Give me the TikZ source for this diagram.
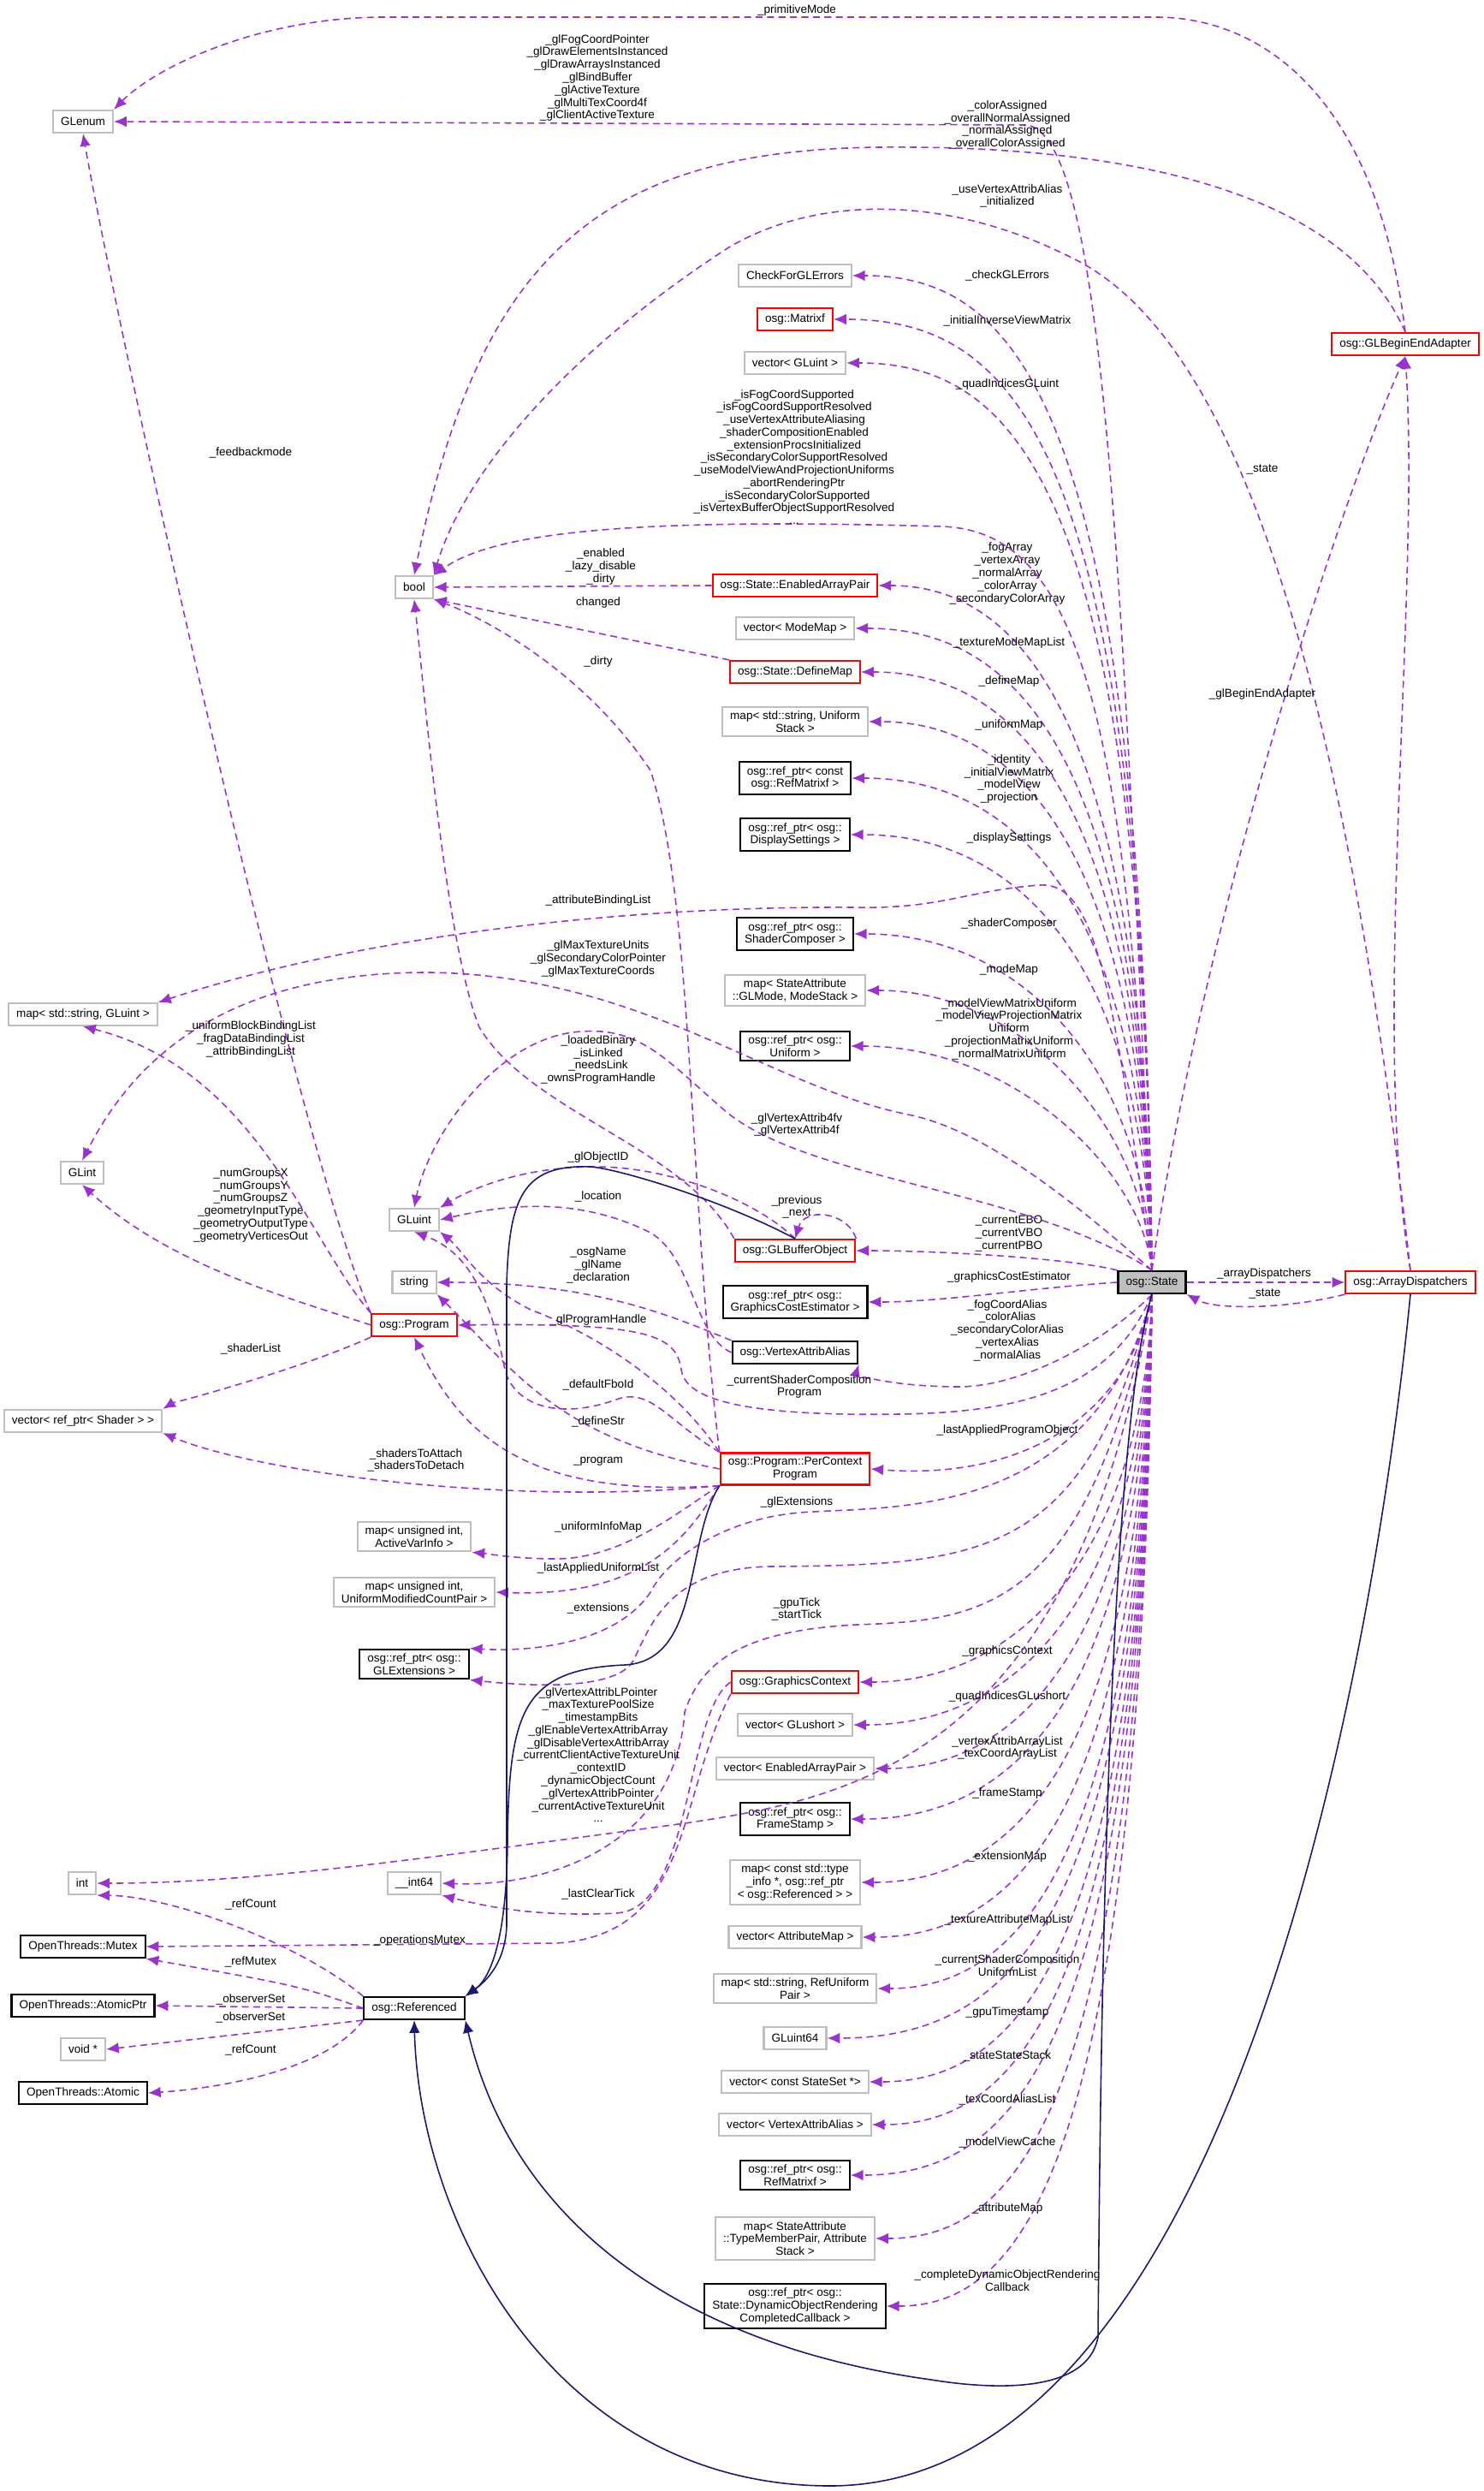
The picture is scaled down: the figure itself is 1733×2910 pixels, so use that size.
\documentclass[tikz,border=0pt]{standalone}
\usepackage{fontspec}
\setmainfont{Liberation Sans}
\usetikzlibrary{arrows.meta}
\definecolor{mem}{HTML}{9A32CD}
\definecolor{inh}{HTML}{191970}
\definecolor{gbox}{HTML}{BFBFBF}
\tikzset{
 box/.style={draw=gbox,line width=0.6pt,fill=white,inner xsep=0.09cm,inner ysep=0.05cm,minimum height=0.26cm,align=center,font=\fontsize{3.85}{4.2}\selectfont},
 gbx/.style={box},
 bbx/.style={box,draw=black},
 rbx/.style={box,draw=red},
 lbl/.style={align=center,inner sep=0,font=\fontsize{3.85}{4.2}\selectfont},
 mem/.style={draw=mem,line width=0.45pt,dash pattern=on 2.3pt off 1.5pt,-{Latex[length=4.2pt,width=3.6pt]},color=mem},
 inhr/.style={draw=inh,line width=0.45pt,-{Latex[length=4.2pt,width=3.6pt]},color=inh},
}
\newcommand\mup[2]{\draw[mem] (st.north) .. controls (1335,{#2+150}) and (1190,#2) .. (#1.east);}
\newcommand\mdn[2]{\draw[mem] (st.south) .. controls (1335,{#2-150}) and (1190,#2) .. (#1.east);}
\begin{document}
\begin{tikzpicture}[x=0.01cm,y=-0.01cm]
\useasboundingbox (0,0) rectangle (1733,2910);
% left column
\node[gbx] (glenum) at (97,142) {GLenum};
\node[gbx] (msg) at (97,1185) {map< std::string, GLuint >};
\node[gbx] (glint) at (96,1370) {GLint};
\node[gbx] (vsh) at (97,1660) {vector< ref\_ptr< Shader > >};
\node[gbx] (intn) at (96,2200) {int};
\node[bbx] (mutex) at (97,2274) {OpenThreads::Mutex};
\node[bbx] (ap) at (97,2343) {OpenThreads::AtomicPtr};
\node[gbx] (voidp) at (97,2394) {void *};
\node[bbx] (atomic) at (97,2445) {OpenThreads::Atomic};
% second column
\node[gbx] (bool) at (484,686) {bool};
\node[gbx] (gluint) at (484,1425) {GLuint};
\node[gbx] (string) at (484,1498) {string};
\node[rbx] (prog) at (484,1548) {osg::Program};
\node[gbx] (avi) at (484,1795) {map< unsigned int,\\ ActiveVarInfo >};
\node[gbx] (umcp) at (484,1860) {map< unsigned int,\\ UniformModifiedCountPair >};
\node[bbx] (glext) at (484,1944) {osg::ref\_ptr< osg::\\ GLExtensions >};
\node[gbx] (i64) at (484,2200) {\_\_int64};
\node[bbx] (ref) at (484,2346) {osg::Referenced};
% middle column
\node[gbx] (cge) at (929,322) {CheckForGLErrors};
\node[rbx] (mtx) at (929,373) {osg::Matrixf};
\node[gbx] (vgl) at (929,424) {vector< GLuint >};
\node[rbx] (eap) at (929,684) {osg::State::EnabledArrayPair};
\node[gbx] (vmm) at (929,734) {vector< ModeMap >};
\node[rbx] (dm) at (929,785) {osg::State::DefineMap};
\node[gbx] (mus) at (929,843) {map< std::string, Uniform\\ Stack >};
\node[bbx] (crm) at (929,909) {osg::ref\_ptr< const\\ osg::RefMatrixf >};
\node[bbx] (ds) at (929,975) {osg::ref\_ptr< osg::\\ DisplaySettings >};
\node[bbx] (sc) at (929,1091) {osg::ref\_ptr< osg::\\ ShaderComposer >};
\node[gbx] (msm) at (929,1157) {map< StateAttribute\\ ::GLMode, ModeStack >};
\node[bbx] (uni) at (929,1222) {osg::ref\_ptr< osg::\\ Uniform >};
\node[rbx] (gbo) at (929,1461) {osg::GLBufferObject};
\node[bbx] (gce) at (929,1521) {osg::ref\_ptr< osg::\\ GraphicsCostEstimator >};
\node[bbx] (vaa) at (929,1580) {osg::VertexAttribAlias};
\node[rbx] (pcp) at (929,1716) {osg::Program::PerContext\\ Program};
\node[rbx] (gc) at (929,1965) {osg::GraphicsContext};
\node[gbx] (vgs) at (929,2015) {vector< GLushort >};
\node[gbx] (veap) at (929,2066) {vector< EnabledArrayPair >};
\node[bbx] (fs) at (929,2125) {osg::ref\_ptr< osg::\\ FrameStamp >};
\node[gbx] (mti) at (929,2199) {map< const std::type\\ \_info *, osg::ref\_ptr\\ < osg::Referenced > >};
\node[gbx] (vam) at (929,2263) {vector< AttributeMap >};
\node[gbx] (mrp) at (929,2323) {map< std::string, RefUniform\\ Pair >};
\node[gbx] (g64) at (929,2381) {GLuint64};
\node[gbx] (vss) at (929,2432) {vector< const StateSet *>};
\node[gbx] (vva) at (929,2482) {vector< VertexAttribAlias >};
\node[bbx] (rm) at (929,2541) {osg::ref\_ptr< osg::\\ RefMatrixf >};
\node[gbx] (msa) at (929,2615) {map< StateAttribute\\ ::TypeMemberPair, Attribute\\ Stack >};
\node[bbx] (dor) at (929,2694) {osg::ref\_ptr< osg::\\ State::DynamicObjectRendering\\ CompletedCallback >};
% right
\node[bbx,fill=gbox] (st) at (1346,1498) {osg::State};
\node[rbx] (ad) at (1648,1498) {osg::ArrayDispatchers};
\node[rbx] (gbe) at (1642,402) {osg::GLBeginEndAdapter};

% ---- State members, right bundle
\mup{cge}{322} \mup{mtx}{373} \mup{vgl}{424} \mup{eap}{684} \mup{vmm}{734}
\mup{dm}{785} \mup{mus}{843} \mup{crm}{909} \mup{ds}{975} \mup{sc}{1091}
\mup{msm}{1157} \mup{uni}{1222}
\draw[mem] (st.north west) .. controls (1250,1470) and (1100,1461) .. (gbo.east);
\draw[mem] (st.west) .. controls (1200,1505) and (1100,1521) .. (gce.east);
\draw[mem] (st.south) .. controls (1300,1560) and (1200,1620) .. (1120,1620) .. controls (1040,1620) and (1000,1605) .. (vaa.south east);
\draw[mem] (st.south) .. controls (1320,1650) and (1200,1730) .. (pcp.east);
\mdn{gc}{1965} \mdn{vgs}{2015} \mdn{veap}{2066} \mdn{fs}{2125} \mdn{mti}{2199}
\mdn{vam}{2263} \mdn{mrp}{2323} \mdn{g64}{2381} \mdn{vss}{2432} \mdn{vva}{2482}
\mdn{rm}{2541} \mdn{msa}{2615} \mdn{dor}{2694}
% labels right
\node[lbl] at (1177,322) {\_checkGLErrors};
\node[lbl] at (1177,375) {\_initialInverseViewMatrix};
\node[lbl] at (1177,449) {\_quadIndicesGLuint};
\node[lbl] at (1177,670) {\_fogArray\\ \_vertexArray\\ \_normalArray\\ \_colorArray\\ \_secondaryColorArray};
\node[lbl] at (1179,751) {\_textureModeMapList};
\node[lbl] at (1179,796) {\_defineMap};
\node[lbl] at (1179,847) {\_uniformMap};
\node[lbl] at (1179,910) {\_identity\\ \_initialViewMatrix\\ \_modelView\\ \_projection};
\node[lbl] at (1179,979) {\_displaySettings};
\node[lbl] at (1179,1079) {\_shaderComposer};
\node[lbl] at (1179,1133) {\_modeMap};
\node[lbl] at (1179,1202) {\_modelViewMatrixUniform\\ \_modelViewProjectionMatrix\\ Uniform\\ \_projectionMatrixUniform\\ \_normalMatrixUniform};
\node[lbl] at (1179,1441) {\_currentEBO\\ \_currentVBO\\ \_currentPBO};
\node[lbl] at (1179,1492) {\_graphicsCostEstimator};
\node[lbl] at (1177,1554) {\_fogCoordAlias\\ \_colorAlias\\ \_secondaryColorAlias\\ \_vertexAlias\\ \_normalAlias};
\node[lbl] at (934,1620) {\_currentShaderComposition\\ Program};
\node[lbl] at (1177,1671) {\_lastAppliedProgramObject};
\node[lbl] at (1177,1929) {\_graphicsContext};
\node[lbl] at (1177,1982) {\_quadIndicesGLushort};
\node[lbl] at (1177,2042) {\_vertexAttribArrayList\\ \_texCoordArrayList};
\node[lbl] at (1177,2095) {\_frameStamp};
\node[lbl] at (1177,2169) {\_extensionMap};
\node[lbl] at (1177,2243) {\_textureAttributeMapList};
\node[lbl] at (1177,2296) {\_currentShaderComposition\\ UniformList};
\node[lbl] at (1177,2351) {\_gpuTimestamp};
\node[lbl] at (1177,2402) {\_stateStateStack};
\node[lbl] at (1177,2453) {\_texCoordAliasList};
\node[lbl] at (1177,2503) {\_modelViewCache};
\node[lbl] at (1177,2580) {\_attributeMap};
\node[lbl] at (1177,2664) {\_completeDynamicObjectRendering\\ Callback};

% ---- top / long edges
\draw[mem] (gbe.north) .. controls (1610,120) and (1480,20) .. (1350,20) -- (450,20) .. controls (300,20) and (180,80) .. (glenum.north east);
\node[lbl] at (931,12) {\_primitiveMode};
\draw[mem] (st.north) .. controls (1310,600) and (1285,160) .. (1200,146) -- (glenum.east);
\node[lbl] at (698,91) {\_glFogCoordPointer\\ \_glDrawElementsInstanced\\ \_glDrawArraysInstanced\\ \_glBindBuffer\\ \_glActiveTexture\\ \_glMultiTexCoord4f\\ \_glClientActiveTexture};
\draw[mem] (gbe.north) .. controls (1560,200) and (1250,170) .. (1030,172) .. controls (700,175) and (560,300) .. (bool.north);
\node[lbl] at (1177,146) {\_colorAssigned\\ \_overallNormalAssigned\\ \_normalAssigned\\ \_overallColorAssigned};
\draw[mem] (ad.north) .. controls (1560,700) and (1420,380) .. (1250,300) .. controls (1100,225) and (950,230) .. (850,290) .. controls (650,420) and (540,560) .. (bool.north east);
\node[lbl] at (1177,229) {\_useVertexAttribAlias\\ \_initialized};
\draw[mem] (prog.north west) .. controls (350,1350) and (140,400) .. (glenum.south);
\node[lbl] at (293,529) {\_feedbackmode};
\draw[mem] (st.north) .. controls (1320,800) and (1250,620) .. (1100,615) .. controls (750,605) and (580,620) .. (bool.north east);
\node[lbl] at (928,534) {\_isFogCoordSupported\\ \_isFogCoordSupportResolved\\ \_useVertexAttributeAliasing\\ \_shaderCompositionEnabled\\ \_extensionProcsInitialized\\ \_isSecondaryColorSupportResolved\\ \_useModelViewAndProjectionUniforms\\ \_abortRenderingPtr\\ \_isSecondaryColorSupported\\ \_isVertexBufferObjectSupportResolved\\ ...};
\draw[mem] (eap.west) -- (bool.east);
\node[lbl] at (702,662) {\_enabled\\ \_lazy\_disable\\ \_dirty};
\draw[mem] (dm.north west) .. controls (700,740) .. (bool.south east);
\node[lbl] at (699,704) {changed};
\draw[mem] (pcp.north west) .. controls (805,1400) and (810,1050) .. (760,900) .. controls (680,780) and (560,720) .. (bool.south east);
\node[lbl] at (699,773) {\_dirty};
\draw[mem] (gbo.north west) .. controls (800,1340) and (620,1300) .. (560,1200) .. controls (520,1100) and (495,800) .. (bool.south);
\draw[mem] (st.north) .. controls (1300,1150) and (1280,1030) .. (1215,1034) .. controls (1130,1040) and (1100,1062) .. (1000,1060) .. controls (700,1058) and (400,1100) .. (msg.north east);
\node[lbl] at (699,1052) {\_attributeBindingList};
\draw[mem] (st.north) .. controls (1250,1400) and (1150,1320) .. (1061,1302) .. controls (900,1270) and (750,1140) .. (503,1136) .. controls (250,1135) and (150,1250) .. (glint.north);
\node[lbl] at (699,1120) {\_glMaxTextureUnits\\ \_glSecondaryColorPointer\\ \_glMaxTextureCoords};
\draw[mem] (st.north) .. controls (1200,1390) and (950,1380) .. (850,1300) .. controls (780,1240) and (750,1200) .. (680,1205) .. controls (580,1210) and (500,1330) .. (gluint.north);
\node[lbl] at (699,1238) {\_loadedBinary\\ \_isLinked\\ \_needsLink\\ \_ownsProgramHandle};
\node[lbl] at (931,1314) {\_glVertexAttrib4fv\\ \_glVertexAttrib4f};
\draw[mem] (gbo.north) .. controls (880,1400) and (780,1363) .. (696,1363) .. controls (600,1363) and (540,1395) .. (gluint.north east);
\node[lbl] at (699,1352) {\_glObjectID};
\draw[mem] (vaa.west) .. controls (810,1560) and (810,1470) .. (760,1440) .. controls (680,1400) and (600,1405) .. (gluint.east);
\node[lbl] at (699,1398) {\_location};
\draw[mem] (gbo.north east) .. controls (990,1415) and (940,1410) .. (gbo.north);
\node[lbl] at (931,1410) {\_previous\\ \_next};
\draw[mem] (vaa.north west) .. controls (790,1540) and (700,1498) .. (string.east);
\node[lbl] at (699,1478) {\_osgName\\ \_glName\\ \_declaration};
\draw[mem] (pcp.north west) .. controls (790,1620) and (700,1560) .. (620,1530) .. controls (560,1500) and (540,1460) .. (gluint.south east);
\node[lbl] at (699,1542) {\_glProgramHandle};
\draw[mem] (st.south) .. controls (1300,1620) and (1200,1650) .. (1050,1652) .. controls (850,1655) and (800,1630) .. (796,1600) .. controls (790,1560) and (760,1545) .. (prog.east);
\draw[mem] (pcp.north west) .. controls (780,1660) and (760,1620) .. (720,1635) .. controls (650,1660) and (600,1640) .. (590,1600) .. controls (570,1500) and (540,1460) .. (gluint.south);
\node[lbl] at (699,1618) {\_defaultFboId};
\draw[mem] (pcp.west) .. controls (650,1680) and (600,1600) .. (string.south east);
\node[lbl] at (699,1661) {\_defineStr};
\draw[mem] (pcp.south west) .. controls (620,1750) and (540,1680) .. (prog.south);
\node[lbl] at (699,1707) {\_program};
\draw[mem] (pcp.south west) .. controls (600,1760) and (300,1720) .. (vsh.south east);
\node[lbl] at (486,1706) {\_shadersToAttach\\ \_shadersToDetach};
\draw[mem] (prog.south west) .. controls (350,1600) and (200,1640) .. (vsh.north east);
\node[lbl] at (293,1576) {\_shaderList};
\draw[mem] (prog.west) .. controls (350,1520) and (200,1480) .. (glint.south);
\node[lbl] at (293,1408) {\_numGroupsX\\ \_numGroupsY\\ \_numGroupsZ\\ \_geometryInputType\\ \_geometryOutputType\\ \_geometryVerticesOut};
\draw[mem] (prog.north west) .. controls (360,1450) and (300,1250) .. (msg.south);
\node[lbl] at (293,1214) {\_uniformBlockBindingList\\ \_fragDataBindingList\\ \_attribBindingList};
\draw[mem] (st.south) .. controls (1280,1770) and (1050,1760) .. (950,1766) .. controls (850,1770) and (780,1820) .. (760,1860) .. controls (720,1920) and (620,1930) .. (glext.north east);
\node[lbl] at (931,1755) {\_glExtensions};
\draw[mem] (st.south) .. controls (1270,1820) and (1150,1828) .. (900,1830) .. controls (780,1832) and (760,1900) .. (740,1940) .. controls (720,1975) and (620,1970) .. (glext.south east);
\node[lbl] at (699,1879) {\_extensions};
\draw[mem] (pcp.south west) .. controls (800,1760) and (730,1821) .. (650,1821) .. controls (600,1821) and (570,1815) .. (avi.south east);
\node[lbl] at (699,1784) {\_uniformInfoMap};
\draw[mem] (pcp.south west) .. controls (800,1800) and (750,1866) .. (umcp.east);
\node[lbl] at (699,1832) {\_lastAppliedUniformList};
\draw[mem] (st.south) .. controls (1270,1880) and (1150,1893) .. (1000,1898) .. controls (870,1905) and (820,1940) .. (800,2000) .. controls (790,2150) and (650,2205) .. (i64.east);
\node[lbl] at (931,1880) {\_gpuTick\\ \_startTick};
\draw[mem] (gc.west) .. controls (800,2000) and (810,2230) .. (720,2235) .. controls (620,2240) and (560,2225) .. (i64.south east);
\node[lbl] at (699,2213) {\_lastClearTick};
\draw[mem] (gc.south west) .. controls (790,2100) and (810,2260) .. (650,2270) -- (mutex.east);
\node[lbl] at (490,2267) {\_operationsMutex};
\draw[mem] (st.south) .. controls (1260,2050) and (1000,2100) .. (800,2130) .. controls (500,2170) and (300,2200) .. (intn.east);
\node[lbl] at (699,2050) {\_glVertexAttribLPointer\\ \_maxTexturePoolSize\\ \_timestampBits\\ \_glEnableVertexAttribArray\\ \_glDisableVertexAttribArray\\ \_currentClientActiveTextureUnit\\ \_contextID\\ \_dynamicObjectCount\\ \_glVertexAttribPointer\\ \_currentActiveTextureUnit\\ ...};
\draw[mem] (ref.north west) .. controls (350,2270) and (200,2215) .. (intn.south east);
\node[lbl] at (293,2225) {\_refCount};
\draw[mem] (ref.west) .. controls (350,2320) .. (mutex.south east);
\node[lbl] at (293,2292) {\_refMutex};
\draw[mem] (ref.west) -- (ap.east);
\node[lbl] at (293,2336) {\_observerSet};
\draw[mem] (ref.south west) -- (voidp.east);
\node[lbl] at (293,2357) {\_observerSet};
\draw[mem] (ref.south west) .. controls (380,2420) and (250,2440) .. (atomic.east);
\node[lbl] at (293,2395) {\_refCount};
% GBE / AD
\draw[mem] (st.north) .. controls (1400,1100) and (1560,600) .. (gbe.south);
\node[lbl] at (1475,548) {\_state};
\draw[mem] (ad.north) .. controls (1600,1200) and (1660,700) .. (gbe.south);
\node[lbl] at (1475,811) {\_glBeginEndAdapter};
\draw[mem] (st.east) -- (ad.west);
\node[lbl] at (1477,1488) {\_arrayDispatchers};
\draw[mem] (ad.south west) .. controls (1500,1530) and (1420,1530) .. (st.south east);
\node[lbl] at (1478,1511) {\_state};
% inheritance
\draw[inhr] (gbo.north) .. controls (840,1400) and (720,1365) .. (690,1363) .. controls (610,1360) and (595,1400) .. (592,1500) -- (592,2250) .. controls (590,2300) and (560,2320) .. (ref.north east);
\draw[inhr] (pcp.south west) .. controls (800,1800) and (820,1940) .. (730,1945) .. controls (610,1950) and (595,2000) .. (593,2150) .. controls (592,2300) and (560,2320) .. (ref.north east);
\draw[inhr] (st.south) .. controls (1290,1700) and (1285,2500) .. (1283,2730) .. controls (1270,2800) and (1150,2790) .. (1088,2780) .. controls (800,2740) and (600,2600) .. (ref.south east);
\draw[inhr] (ad.south) .. controls (1610,1900) and (1450,2900) .. (972,2904) .. controls (650,2905) and (490,2600) .. (ref.south);
\end{tikzpicture}
\end{document}
